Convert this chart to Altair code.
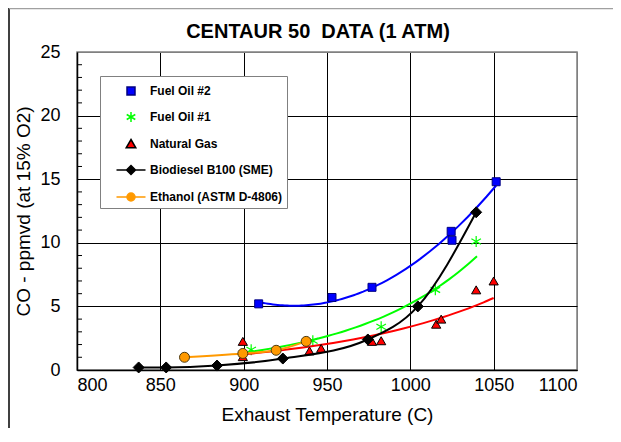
import altair as alt
import pandas as pd

# ---------------- data ----------------
title_text = ["CENTAUR 50\u00a0 DATA (1 ATM)"]
series_names = ["Fuel Oil #2", "Fuel Oil #1", "Natural Gas",
                "Biodiesel B100 (SME)", "Ethanol (ASTM D-4806)"]

fo2_t = [909, 953, 977, 1024.5, 1025, 1051.5]
fo2_co = [5.2, 5.7, 6.5, 10.9, 10.2, 14.8]

fo1_t = [904.5, 941.5, 982.5, 1015, 1039.5]
fo1_co = [1.6, 2.3, 3.4, 6.3, 10.1]

ng_t = [899.5, 899.5, 939.5, 946.5, 977, 982.5, 1015.5, 1018.5, 1039.5, 1050]
ng_co = [2.25, 1.05, 1.5, 1.7, 2.25, 2.3, 3.6, 4.0, 6.3, 7.0]

bio_t = [837, 853.5, 884, 923.5, 974.5, 1004.5, 1039.5]
bio_co = [0.2, 0.2, 0.35, 0.9, 2.4, 5.0, 12.4]

eth_t = [864.5, 899.5, 919.5, 937.5]
eth_co = [1.0, 1.3, 1.55, 2.25]

x_ticks = [800, 850, 900, 950, 1000, 1050, 1100]
y_ticks = [0, 5, 10, 15, 20, 25]
y_minor = [1, 2, 3, 4, 6, 7, 8, 9, 11, 12, 13, 14, 16, 17, 18, 19, 21, 22, 23, 24]
fo1_fit_range = [900, 1040]

# ---------------- styling ----------------
FONT = "Liberation Sans"
BLUE, GREEN, RED, BLACK, ORANGE = "#0000ff", "#00ff00", "#ff0000", "#000000", "#ff9900"

asterisk = "M0,-1V1M-0.87,-0.5L0.87,0.5M-0.87,0.5L0.87,-0.5"

# legend symbols (size 400 -> 1 path unit = 10 px)
leg_paths = [
    "M-0.4,-0.4H0.4V0.4H-0.4Z",
    "M0,-0.5V0.5M-0.43,-0.25L0.43,0.25M-0.43,0.25L0.43,-0.25",
    "M0,-0.45L0.48,0.38H-0.48Z",
    "M-1.45,0H1.45M0,-0.45L0.45,0L0,0.45L-0.45,0Z",
    "M-1.45,0H-0.4M0.4,0H1.45M0.4,0A0.4,0.4,0,1,1,-0.4,0A0.4,0.4,0,1,1,0.4,0Z",
]
leg_fill = [BLUE, GREEN, RED, BLACK, ORANGE]
leg_stroke = ["#000080", GREEN, BLACK, BLACK, ORANGE]

X = alt.X("T:Q", scale=alt.Scale(domain=[800, 1100], nice=False, zero=False),
          axis=alt.Axis(values=x_ticks, format="d", title="Exhaust Temperature (C)", grid=True,
                        gridColor=alt.condition("datum.value == 1100", alt.value("#808080"), alt.value("black")),
                        gridOpacity=1, ticks=False, domainColor="black", domainWidth=1.5,
                        labelFont=FONT, labelFontSize=18, labelColor="black", labelPadding=6,
                        titleFont=FONT, titleFontSize=19, titleFontWeight="normal", titleColor="black",
                        titlePadding=11))
Y = alt.Y("CO:Q", scale=alt.Scale(domain=[0, 25], nice=False),
          axis=alt.Axis(values=y_ticks, format="d", title="CO - ppmvd (at 15% O2)", grid=True,
                        gridColor=alt.condition("datum.value == 25", alt.value("#808080"), alt.value("black")),
                        gridOpacity=1, ticks=False, domainColor="black", domainWidth=1.5,
                        labelFont=FONT, labelFontSize=18, labelColor="black", labelPadding=17,
                        titleFont=FONT, titleFontSize=19, titleFontWeight="normal", titleColor="black",
                        titleX=-54, titleBaseline="middle"))


def frame(t, co):
    return pd.DataFrame({"T": t, "CO": co})


fo2 = frame(fo2_t, fo2_co)
fo1 = frame(fo1_t, fo1_co)
ng = frame(ng_t, ng_co)
bio = frame(bio_t, bio_co)
eth = frame(eth_t, eth_co)

minor = alt.Chart(pd.DataFrame({"CO": y_minor})).mark_rule(color="black", strokeWidth=1).encode(
    y=Y, x=alt.value(0), x2=alt.value(5))

border_left = alt.Chart(pd.DataFrame({"CO": [0]})).mark_rule(color="black", strokeWidth=1.5).encode(
    x=alt.value(-68), y=alt.value(-44), y2=alt.value(382))
border_top = alt.Chart(pd.DataFrame({"CO": [0]})).mark_rule(color="#a0a0a0", strokeWidth=1.5).encode(
    x=alt.value(-68), x2=alt.value(540), y=alt.value(-43.5))

title_layer = alt.Chart(pd.DataFrame({"t": title_text})).mark_text(
    font=FONT, fontSize=20, fontWeight="bold", color="black", align="center", baseline="middle").encode(
    text="t:N", x=alt.value(241), y=alt.value(-20))


def poly_trend(df, color):
    return alt.Chart(df).transform_regression("T", "CO", method="poly", order=2).mark_line(
        color=color, strokeWidth=2).encode(x=X, y=Y)


def exp_trend(df, color, **kw):
    # exponential trendline: least squares on ln(CO), as a spreadsheet does
    return (alt.Chart(df)
            .transform_calculate(lnCO="log(datum.CO)")
            .transform_regression("T", "lnCO", method="poly", order=1, **kw)
            .transform_calculate(CO="exp(datum.lnCO)")
            .mark_line(color=color, strokeWidth=2, interpolate="monotone").encode(x=X, y=Y))


fo2_pts = alt.Chart(fo2).mark_point(shape="square", size=64, filled=True, fill=BLUE,
                                    stroke="#000080", strokeWidth=1, opacity=1).encode(x=X, y=Y)
fo1_pts = alt.Chart(fo1).mark_point(shape=asterisk, size=121, filled=False, stroke=GREEN,
                                    strokeWidth=1.2, opacity=1).encode(x=X, y=Y)
ng_pts = alt.Chart(ng).mark_point(shape="triangle-up", size=85, filled=True, fill=RED,
                                  stroke="black", strokeWidth=1, opacity=1).encode(x=X, y=Y)
bio_line = alt.Chart(bio).mark_line(color="black", strokeWidth=2, interpolate="monotone").encode(x=X, y=Y)
bio_pts = alt.Chart(bio).mark_point(shape="diamond", size=121, filled=True, fill="black",
                                    stroke="black", strokeWidth=1, opacity=1).encode(x=X, y=Y)
eth_line = alt.Chart(eth).mark_line(color=ORANGE, strokeWidth=2, interpolate="monotone").encode(x=X, y=Y)
eth_pts = alt.Chart(eth).mark_point(shape="circle", size=100, filled=True, fill=ORANGE,
                                    stroke="#4d3a10", strokeWidth=1, opacity=1).encode(x=X, y=Y)

leg_common = dict(title=None, orient="none", legendX=23, legendY=24, padding=4,
                  fillColor="white", strokeColor="#808080", symbolSize=400,
                  symbolStrokeWidth=1.5, symbolOpacity=1, symbolOffset=16,
                  labelFont=FONT, labelFontSize=12, labelFontWeight="bold", labelColor="black",
                  labelOffset=8, rowPadding=8)
legend_layer = alt.Chart(pd.DataFrame({"series": series_names})).transform_filter("false").mark_point(
    size=400, filled=True, opacity=1, strokeWidth=1.5).encode(
    fill=alt.Fill("series:N", scale=alt.Scale(domain=series_names, range=leg_fill),
                  legend=alt.Legend(**leg_common)),
    stroke=alt.Stroke("series:N", scale=alt.Scale(domain=series_names, range=leg_stroke),
                      legend=alt.Legend(**leg_common)),
    shape=alt.Shape("series:N", scale=alt.Scale(domain=series_names, range=leg_paths),
                    legend=alt.Legend(**leg_common)),
)

chart = alt.layer(
    minor,
    poly_trend(fo2, BLUE), fo2_pts,
    exp_trend(fo1, GREEN, extent=fo1_fit_range), fo1_pts,
    exp_trend(ng, RED), ng_pts,
    bio_line, bio_pts,
    eth_line, eth_pts,
    legend_layer,
    border_left, border_top, title_layer,
).properties(
    width=500, height=318,
    autosize=alt.AutoSizeParams(type="none"),
    padding={"left": 69, "top": 44, "right": 36, "bottom": 58},
).configure_view(stroke="#808080", strokeWidth=1.5)

chart.save("out.html", embed_options={"renderer": "svg", "actions": False})
